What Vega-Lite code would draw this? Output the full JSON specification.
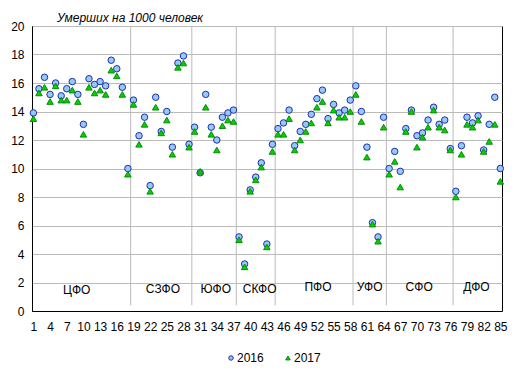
{
  "$schema": "https://vega.github.io/schema/vega-lite/v6.json",
  "width": 470,
  "height": 285,
  "autosize": "none",
  "padding": {"left": 32, "top": 26, "right": 17, "bottom": 65},
  "background": "white",
  "title": {"text": "Умерших на 1000 человек", "anchor": "start", "frame": "group", "dx": 25, "offset": -5, "font": "Liberation Sans", "fontSize": 12, "fontStyle": "italic", "fontWeight": "normal", "color": "#000000"},
  "config": {
    "view": {"stroke": "#000000", "strokeWidth": 1},
    "font": "Liberation Sans"
  },
  "datasets": {
    "rates": [
      {"n": 1, "2016": 13.9, "2017": 13.5}, {"n": 2, "2016": 15.6, "2017": 15.3}, {"n": 3, "2016": 16.4, "2017": 15.7},
      {"n": 4, "2016": 15.2, "2017": 14.7}, {"n": 5, "2016": 16.0, "2017": 15.8}, {"n": 6, "2016": 15.1, "2017": 14.8},
      {"n": 7, "2016": 15.6, "2017": 14.8}, {"n": 8, "2016": 16.1, "2017": 15.5}, {"n": 9, "2016": 15.2, "2017": 14.7},
      {"n": 10, "2016": 13.1, "2017": 12.4}, {"n": 11, "2016": 16.3, "2017": 15.7}, {"n": 12, "2016": 15.9, "2017": 15.3},
      {"n": 13, "2016": 16.1, "2017": 15.5}, {"n": 14, "2016": 15.8, "2017": 15.2}, {"n": 15, "2016": 17.6, "2017": 16.9},
      {"n": 16, "2016": 17.0, "2017": 16.5}, {"n": 17, "2016": 15.7, "2017": 15.2}, {"n": 18, "2016": 10.0, "2017": 9.6},
      {"n": 19, "2016": 14.8, "2017": 14.5}, {"n": 20, "2016": 12.3, "2017": 11.7}, {"n": 21, "2016": 13.6, "2017": 13.1},
      {"n": 22, "2016": 8.8, "2017": 8.4}, {"n": 23, "2016": 15.0, "2017": 14.3}, {"n": 24, "2016": 12.6, "2017": 12.5},
      {"n": 25, "2016": 14.0, "2017": 13.4}, {"n": 26, "2016": 11.5, "2017": 11.0}, {"n": 27, "2016": 17.4, "2017": 17.1},
      {"n": 28, "2016": 17.9, "2017": 17.4}, {"n": 29, "2016": 11.7, "2017": 11.5}, {"n": 30, "2016": 12.9, "2017": 12.6},
      {"n": 31, "2016": 9.7, "2017": 9.8}, {"n": 32, "2016": 15.2, "2017": 14.3}, {"n": 33, "2016": 12.9, "2017": 12.4},
      {"n": 34, "2016": 12.0, "2017": 11.3}, {"n": 35, "2016": 13.6, "2017": 13.0}, {"n": 36, "2016": 13.9, "2017": 13.4},
      {"n": 37, "2016": 14.1, "2017": 13.3}, {"n": 38, "2016": 5.2, "2017": 5.0}, {"n": 39, "2016": 3.3, "2017": 3.1},
      {"n": 40, "2016": 8.5, "2017": 8.4}, {"n": 41, "2016": 9.4, "2017": 9.2}, {"n": 42, "2016": 10.4, "2017": 10.1},
      {"n": 43, "2016": 4.7, "2017": 4.5}, {"n": 44, "2016": 11.7, "2017": 11.2}, {"n": 45, "2016": 12.8, "2017": 12.4},
      {"n": 46, "2016": 13.2, "2017": 12.4}, {"n": 47, "2016": 14.1, "2017": 13.5}, {"n": 48, "2016": 11.6, "2017": 11.3},
      {"n": 49, "2016": 12.6, "2017": 12.0}, {"n": 50, "2016": 13.1, "2017": 12.6}, {"n": 51, "2016": 13.8, "2017": 13.2},
      {"n": 52, "2016": 14.9, "2017": 14.3}, {"n": 53, "2016": 15.5, "2017": 14.7}, {"n": 54, "2016": 13.5, "2017": 13.2},
      {"n": 55, "2016": 14.5, "2017": 14.1}, {"n": 56, "2016": 13.9, "2017": 13.6}, {"n": 57, "2016": 14.1, "2017": 13.6},
      {"n": 58, "2016": 14.8, "2017": 14.0}, {"n": 59, "2016": 15.8, "2017": 15.2}, {"n": 60, "2016": 14.0, "2017": 13.3},
      {"n": 61, "2016": 11.5, "2017": 10.8}, {"n": 62, "2016": 6.2, "2017": 6.1}, {"n": 63, "2016": 5.2, "2017": 4.9},
      {"n": 64, "2016": 13.6, "2017": 12.9}, {"n": 65, "2016": 10.0, "2017": 9.6}, {"n": 66, "2016": 11.2, "2017": 10.5},
      {"n": 67, "2016": 9.8, "2017": 8.7}, {"n": 68, "2016": 12.8, "2017": 12.6}, {"n": 69, "2016": 14.1, "2017": 14.0},
      {"n": 70, "2016": 12.3, "2017": 11.5}, {"n": 71, "2016": 12.5, "2017": 12.2}, {"n": 72, "2016": 13.4, "2017": 12.9},
      {"n": 73, "2016": 14.3, "2017": 14.1}, {"n": 74, "2016": 13.1, "2017": 12.9}, {"n": 75, "2016": 13.4, "2017": 12.7},
      {"n": 76, "2016": 11.4, "2017": 11.3}, {"n": 77, "2016": 8.4, "2017": 8.0}, {"n": 78, "2016": 11.6, "2017": 11.0},
      {"n": 79, "2016": 13.6, "2017": 13.1}, {"n": 80, "2016": 13.2, "2017": 12.9}, {"n": 81, "2016": 13.7, "2017": 13.4},
      {"n": 82, "2016": 11.3, "2017": 11.2}, {"n": 83, "2016": 13.1, "2017": 11.9}, {"n": 84, "2016": 15.0, "2017": 13.1},
      {"n": 85, "2016": 10.0, "2017": 9.1}
    ],
    "bounds": [{"b": 18.5}, {"b": 29.5}, {"b": 37.5}, {"b": 44.5}, {"b": 58.5}, {"b": 64.5}, {"b": 76.5}],
    "districts": [
      {"name": "ЦФО", "xc": 8.8, "yc": 1.47},
      {"name": "СЗФО", "xc": 24.3, "yc": 1.57},
      {"name": "ЮФО", "xc": 33.8, "yc": 1.52},
      {"name": "СКФО", "xc": 41.7, "yc": 1.52},
      {"name": "ПФО", "xc": 52.2, "yc": 1.66},
      {"name": "УФО", "xc": 61.5, "yc": 1.66},
      {"name": "СФО", "xc": 70.4, "yc": 1.66},
      {"name": "ДФО", "xc": 80.7, "yc": 1.66}
    ]
  },
  "encoding": {
    "x": {"type": "quantitative", "scale": {"domain": [0.75, 85.3], "nice": false, "zero": false},
      "axis": {"values": [1,4,7,10,13,16,19,22,25,28,31,34,37,40,43,46,49,52,55,58,61,64,67,70,73,76,79,82,85],
        "labelOverlap": false, "labelFlush": false, "title": null, "grid": false, "ticks": false, "domainColor": "#000000",
        "labelColor": "#000000", "labelFontSize": 12, "labelPadding": 10, "labelFont": "Liberation Sans"}},
    "y": {"type": "quantitative", "scale": {"domain": [0, 20], "nice": false},
      "axis": {"values": [0,2,4,6,8,10,12,14,16,18,20], "labelOverlap": false, "labelFlush": false, "title": null,
        "grid": true, "gridColor": "#BBBBBB", "ticks": false, "domainColor": "#000000", "labelColor": "#000000",
        "labelFontSize": 12, "labelPadding": 8, "labelFont": "Liberation Sans"}}
  },
  "layer": [
    {
      "data": {"name": "bounds"},
      "mark": {"type": "rule", "color": "#BBBBBB", "strokeWidth": 1},
      "encoding": {
        "x": {"field": "b"},
        "y": {"datum": 0.4},
        "y2": {"datum": 20}
      }
    },
    {
      "data": {"name": "rates"},
      "transform": [{"fold": ["2016", "2017"], "as": ["year", "value"]}],
      "mark": {"type": "point", "filled": true, "size": 42, "strokeWidth": 1, "opacity": 1},
      "encoding": {
        "x": {"field": "n"},
        "y": {"field": "value"},
        "shape": {"field": "year", "type": "nominal", "scale": {"domain": ["2016", "2017"], "range": ["circle", "triangle-up"]},
          "legend": {"title": null, "orient": "none", "legendX": 193, "legendY": 326, "direction": "horizontal",
            "symbolSize": 20, "labelFontSize": 12, "labelFont": "Liberation Sans", "labelColor": "#000000",
            "symbolStrokeWidth": 1, "labelOffset": 0, "columnPadding": 18}},
        "fill": {"field": "year", "type": "nominal", "scale": {"domain": ["2016", "2017"], "range": ["#96C8F8", "#00D400"]}},
        "stroke": {"field": "year", "type": "nominal", "scale": {"domain": ["2016", "2017"], "range": ["#1F2FA8", "#0A8A0A"]}},
        "order": {"field": "year", "type": "ordinal"}
      }
    },
    {
      "data": {"name": "districts"},
      "mark": {"type": "text", "fontSize": 12, "font": "Liberation Sans", "color": "#000000", "align": "center", "baseline": "middle"},
      "encoding": {
        "x": {"field": "xc"},
        "y": {"field": "yc"},
        "text": {"field": "name"}
      }
    }
  ]
}
